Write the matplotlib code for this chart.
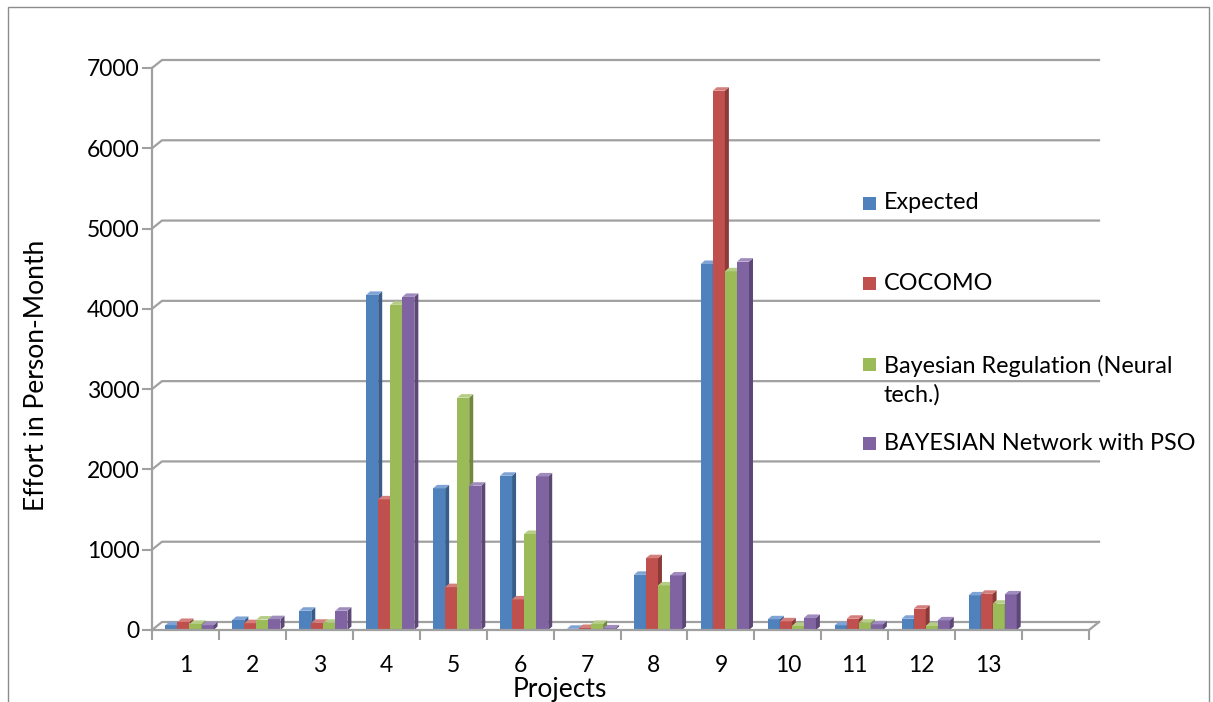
import matplotlib
matplotlib.use("Agg")
import matplotlib.pyplot as plt
from matplotlib.patches import Polygon, Rectangle
import numpy as np

# data
projects = list(range(1, 14))
expected = [60, 125, 240, 4174, 1764, 1921, 15, 687, 4559, 133, 58, 140, 431]
cocomo = [100, 85, 90, 1627, 534, 381, 25, 894, 6717, 108, 140, 265, 451]
bayes_reg = [75, 130, 90, 4050, 2894, 1196, 75, 555, 4468, 50, 91, 50, 327]
bayes_pso = [60, 135, 240, 4149, 1797, 1913, 20, 679, 4588, 150, 70, 120, 443]
series_names = ["Expected", "COCOMO", "Bayesian Regulation (Neural\ntech.)",
                "BAYESIAN Network with PSO"]
y_ticks = list(range(0, 7001, 1000))

face_colors = ['#4F81BD', '#C0504D', '#9BBB59', '#8064A2']
side_colors = ['#385D8A', '#8C3A37', '#71893F', '#5C4776']
top_colors = ['#7FA3D4', '#D47F7C', '#B5CD85', '#A08BBF']

plt.rcParams['font.family'] = ['Lato', 'DejaVu Sans']

W, H = 1213, 702
fig = plt.figure(figsize=(W / 100, H / 100), dpi=100)

# front plane of the fake 3d box, in pixels
x0, x1 = 152, 1089
y0, y1 = 630, 68
ax = fig.add_axes([x0 / W, 1 - y0 / H, (x1 - x0) / W, (y0 - y1) / H])
ax.set_xlim(0.5, 14.5)
ax.set_ylim(0, 7000)
ax.patch.set_visible(False)

# pixel -> data units
px = 14 / (x1 - x0)
py = 7000 / (y0 - y1)
wall_dx, wall_dy = 10 * px, 8 * py
bar_dx, bar_dy = 4 * px, 3.5 * py

grid_c = '#A0A0A0'
# back wall grid lines + the little diagonals on the side wall
for v in y_ticks:
    ax.plot([0.5, 0.5 + wall_dx, 14.5 + wall_dx], [v, v + wall_dy, v + wall_dy],
            color=grid_c, lw=1.6, clip_on=False, zorder=1)
# right edge of the floor
ax.plot([14.5, 14.5 + wall_dx], [0, wall_dy], color=grid_c, lw=1.6, clip_on=False, zorder=1)

# bars
w = 0.18
all_series = [expected, cocomo, bayes_reg, bayes_pso]
for j, vals in enumerate(all_series):
    for p, h in zip(projects, vals):
        x = p + (j - 2) * w + 4 * px
        z = 2 + j
        ax.bar(x, h, w, align='edge', color=face_colors[j], lw=0, zorder=z)
        side = Polygon([(x + w, 0), (x + w + bar_dx, bar_dy), (x + w + bar_dx, h + bar_dy), (x + w, h)],
                       closed=True, facecolor=side_colors[j], lw=0, zorder=z)
        top = Polygon([(x, h), (x + bar_dx, h + bar_dy), (x + w + bar_dx, h + bar_dy), (x + w, h)],
                      closed=True, facecolor=top_colors[j], lw=0, zorder=z)
        ax.add_patch(side)
        ax.add_patch(top)

# axes styling
for s in ['top', 'right']:
    ax.spines[s].set_visible(False)
for s in ['left', 'bottom']:
    ax.spines[s].set_color(grid_c)
    ax.spines[s].set_linewidth(1.6)
    ax.spines[s].set_zorder(10)

ax.set_yticks(y_ticks)
ax.tick_params(axis='y', direction='out', length=7, width=1.5, color=grid_c,
               labelsize=16.5, pad=2)
ax.set_xticks(projects)
ax.set_xticks(np.arange(0.5, 15, 1), minor=True)
ax.tick_params(axis='x', which='major', length=0, labelsize=16.5, pad=18)
ax.tick_params(axis='x', which='minor', direction='out', length=7, width=1.5, color=grid_c)

fig.text(37 / W, 1 - 375 / H, "Effort in Person-Month", rotation=90,
         ha='center', va='center', fontsize=19)
fig.text(560 / W, 1 - 689 / H, "Projects", ha='center', va='center', fontsize=19)

# legend, drawn by hand so the spacing matches
leg_y = [203, 283, 380, 443]
for j, name in enumerate(series_names):
    yc = leg_y[j] if j != 2 else 364
    fig.add_artist(Rectangle((863 / W, 1 - (yc + 6.5) / H), 13 / W, 13 / H,
                             transform=fig.transFigure, facecolor=face_colors[j], lw=0))
    fig.text(884 / W, 1 - leg_y[j] / H, name, ha='left', va='center',
             fontsize=16.8, linespacing=1.38)

# outer chart border
fig.add_artist(Rectangle((8 / W, -0.05), (1209 - 8) / W, 1.05 - 7 / H,
                         transform=fig.transFigure, fill=False, edgecolor='#8C8C8C', lw=1))

fig.savefig("out.png", dpi=100)
